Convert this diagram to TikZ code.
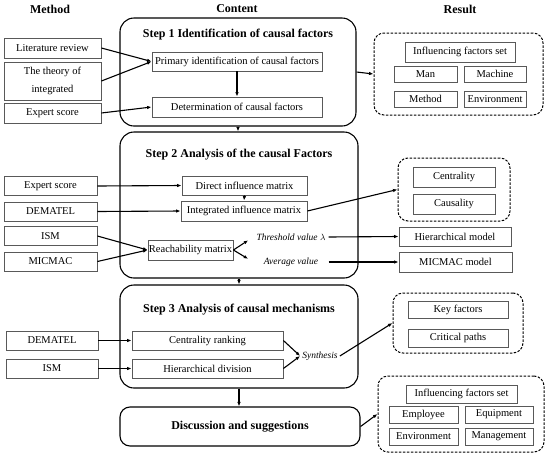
\documentclass[tikz,border=0pt]{standalone}
\usepackage{fontspec}
\setmainfont{Liberation Serif}
\usetikzlibrary{arrows.meta}
\usetikzlibrary{positioning}

\begin{document}
\begin{tikzpicture}[x=1pt,y=-1pt,
    header/.style={font=\fontsize{12}{14}\selectfont\bfseries},
    steptitle/.style={font=\fontsize{12}{14}\selectfont\bfseries},
    stepbox/.style={draw=black,line width=1.1pt,rounded corners=14pt,inner sep=0pt},
    resultbox/.style={draw=black,line width=1pt,dash pattern=on 2.5pt off 1.5pt,rounded corners=10pt,inner sep=0pt},
    note/.style={font=\fontsize{9.5}{11}\selectfont\itshape,inner sep=2pt}]

    \useasboundingbox (0,0) rectangle (550,456);

    % column headers
    \node[header] (hMethod) at (50,9) {Method};
    \node[header] (hContent) at (237,9) {Content};
    \node[header] (hResult) at (460,9) {Result};

    % the three steps and the last box
    \node[stepbox, minimum width=236, minimum height=108] (step1) at (238,72) {};
    \node[steptitle] (t1) at (238,35) {Step 1 Identification of causal factors};
    \node[stepbox, minimum width=238, minimum height=146] (step2) at (239,205) {};
    \node[steptitle] (t2) at (239,155) {Step 2 Analysis of the causal Factors};
    \node[stepbox, minimum width=238, minimum height=103] (step3) at (239,336.5) {};
    \node[steptitle] (t3) at (239,310) {Step 3 Analysis of causal mechanisms};
    \node[stepbox, rounded corners=10pt, minimum width=240, minimum height=39,
          font=\fontsize{12}{14}\selectfont\bfseries] (disc) at (240,426.5) {Discussion and suggestions};

    % dashed result groups
    \node[resultbox, minimum width=169, minimum height=82] (res1) at (458.5,74) {};
    \node[resultbox, minimum width=112, minimum height=63] (res2) at (454,189.5) {};
    \node[resultbox, minimum width=130, minimum height=60] (res3) at (458,323) {};
    \node[resultbox, minimum width=166, minimum height=76] (res4) at (461,414) {};

    % all plain boxes
    \begin{scope}[every node/.style={draw=black!65,line width=0.8pt,inner sep=0pt,
                  align=center,font=\fontsize{10.5}{12.6}\selectfont}]
    % method
    \node[minimum width=97, minimum height=20] (lit) at (52.5,48) {Literature review};
    \node[minimum width=97, minimum height=38] (theory) at (52.5,81) {The theory of\\[6pt]integrated};
    \node[minimum width=97, minimum height=20] (exp1) at (52.5,113) {Expert score};
    \node[minimum width=93, minimum height=19] (exp2) at (50.5,186) {Expert score};
    \node[minimum width=93, minimum height=19] (dem1) at (50.5,211.5) {DEMATEL};
    \node[minimum width=93, minimum height=19] (ism1) at (50.5,236) {ISM};
    \node[minimum width=93, minimum height=19] (mic) at (50.5,261.5) {MICMAC};
    \node[minimum width=92, minimum height=19] (dem2) at (52,340.5) {DEMATEL};
    \node[minimum width=92, minimum height=19] (ism2) at (52,368.5) {ISM};

    % content
    \node[minimum width=170, minimum height=19] (prim) at (237,61.5) {Primary identification of causal factors};
    \node[minimum width=170, minimum height=20] (det) at (237,107) {Determination of causal factors};
    \node[minimum width=125, minimum height=19] (direct) at (244.5,185.5) {Direct influence matrix};
    \node[minimum width=126, minimum height=20] (integ) at (244,211) {Integrated influence matrix};
    \node[minimum width=85, minimum height=20] (reach) at (190.5,250) {Reachability matrix};
    \node[minimum width=151, minimum height=19] (cent) at (207.5,340.5) {Centrality ranking};
    \node[minimum width=151, minimum height=19] (hier) at (207.5,368.5) {Hierarchical division};

    % result
    \node[minimum width=110, minimum height=20] (ifs1) at (460,52) {Influencing factors set};
    \node[minimum width=63, minimum height=16] (man) at (425.5,74) {Man};
    \node[minimum width=62, minimum height=16] (machine) at (495,74) {Machine};
    \node[minimum width=63, minimum height=16] (method) at (425.5,99) {Method};
    \node[minimum width=62, minimum height=16] (env1) at (495,99) {Environment};
    \node[minimum width=82, minimum height=20] (centr) at (454,177) {Centrality};
    \node[minimum width=82, minimum height=20] (caus) at (454,204) {Causality};
    \node[minimum width=112, minimum height=19] (hiermod) at (455,236.5) {Hierarchical model};
    \node[minimum width=113, minimum height=20] (micmod) at (455.5,262) {MICMAC model};
    \node[minimum width=100, minimum height=17] (key) at (458,309.5) {Key factors};
    \node[minimum width=100, minimum height=18] (crit) at (458,338) {Critical paths};
    \node[minimum width=111, minimum height=18] (ifs2) at (461.5,394) {Influencing factors set};
    \node[minimum width=69, minimum height=17] (emp) at (423.5,414.5) {Employee};
    \node[minimum width=68, minimum height=17] (equip) at (499,414.5) {Equipment};
    \node[minimum width=69, minimum height=17] (env2) at (423.5,436.5) {Environment};
    \node[minimum width=68, minimum height=17] (mgmt) at (499,436.5) {Management};
    \end{scope}

    % italic notes
    \node[note, minimum width=75] (thresh) at (291,237) {Threshold value $\lambda$};
    \node[note, minimum width=75] (avg) at (291,262) {Average value};
    \node[note] (synth) at (320,356) {Synthesis};

    % connectors
    \begin{scope}[>={Latex[length=4.5pt,width=3.5pt]},
                  every edge/.style={draw=black, line width=1.1pt}]
    \path [->] (lit.east) edge (prim.west);
    \path [->] (theory.east) edge (prim.west);
    \path [->] (exp1.east) edge (det.west);
    \path [->] (prim.south) edge (det.north);
    \path [->] (step1.east) edge (res1.west);
    \path [->] (step1.south) edge (step1.south |- step2.north);

    \path [->] (exp2.east) edge (direct.west);
    \path [->] (dem1.east) edge (integ.west);
    \path [->] (direct.south) edge (integ.north);
    \path [->] (ism1.east) edge (reach.west);
    \path [->] (mic.east) edge (reach.west);
    \path [->] (integ.east) edge (res2.west);
    \path [->] (reach.east) edge[shorten >=6pt] (thresh.west);
    \path [->] (reach.east) edge[shorten >=6pt] (avg.west);
    \path [->] (thresh.east) edge (hiermod.west);
    \path [->] (avg.east) edge (micmod.west);
    \path [->] (step2.south) edge (step2.south |- step3.north);

    \path [->] (dem2.east) edge (cent.west);
    \path [->] (ism2.east) edge (hier.west);
    \path [->] (cent.east) edge (synth.west);
    \path [->] (hier.east) edge (synth.west);
    \path [->] (synth.east) edge (res3.west);
    \path [->] (step3.south) edge (step3.south |- disc.north);
    \path [->] (disc.east) edge (res4.west);
    \end{scope}

\end{tikzpicture}
\end{document}
